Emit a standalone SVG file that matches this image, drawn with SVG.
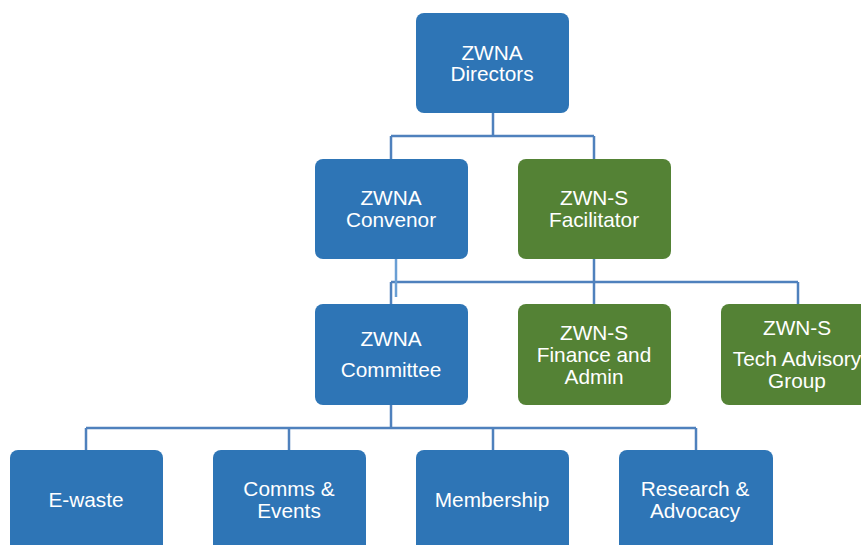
<svg xmlns="http://www.w3.org/2000/svg" width="861" height="545" viewBox="0 0 861 545">
<style>
.b{fill:#2e75b6}
.g{fill:#548235}
.n rect{rx:8;ry:8}
text{font-family:"Liberation Sans",Arial,sans-serif;font-size:20.8px;fill:#fff;text-anchor:middle}
.c{stroke:#4f81bd;stroke-width:2.5;fill:none}
</style>
<rect width="861" height="545" fill="#fff"/>
<g id="connectors" class="c">
<path d="M493 113V136M391 136H594M391 136V159M594 136V159"/>
<path d="M594 259V282M391 282H798M391 282V304M594 282V304M798 282V304"/>
<path d="M396 259V297" stroke="#6a9fd4"/>
<path d="M391 405V428M86 428H696M86 428V450M289 428V450M493 428V450M696 428V450"/>
</g>
<g id="directors" class="n"><rect class="b" x="416" y="13" width="153" height="100"/><text x="492" y="60">ZWNA</text><text x="492" y="81">Directors</text></g>
<g id="convenor" class="n"><rect class="b" x="315" y="159" width="153" height="100"/><text x="391" y="205">ZWNA</text><text x="391" y="227">Convenor</text></g>
<g id="facilitator" class="n"><rect class="g" x="518" y="159" width="153" height="100"/><text x="594" y="205">ZWN-S</text><text x="594" y="227">Facilitator</text></g>
<g id="committee" class="n"><rect class="b" x="315" y="304" width="153" height="101"/><text x="391" y="346">ZWNA</text><text x="391" y="377">Committee</text></g>
<g id="finance" class="n"><rect class="g" x="518" y="304" width="153" height="101"/><text x="594" y="340">ZWN-S</text><text x="594" y="362">Finance and</text><text x="594" y="384">Admin</text></g>
<g id="tech" class="n"><rect class="g" x="721" y="304" width="153" height="101"/><text x="797" y="335">ZWN-S</text><text x="797" y="366">Tech Advisory</text><text x="797" y="388">Group</text></g>
<g id="ewaste" class="n"><rect class="b" x="10" y="450" width="153" height="110"/><text x="86" y="507">E-waste</text></g>
<g id="comms" class="n"><rect class="b" x="213" y="450" width="153" height="110"/><text x="289" y="496">Comms &amp;</text><text x="289" y="518">Events</text></g>
<g id="membership" class="n"><rect class="b" x="416" y="450" width="153" height="110"/><text x="492" y="507">Membership</text></g>
<g id="research" class="n"><rect class="b" x="619" y="450" width="154" height="110"/><text x="695" y="496">Research &amp;</text><text x="695" y="518">Advocacy</text></g>
</svg>
